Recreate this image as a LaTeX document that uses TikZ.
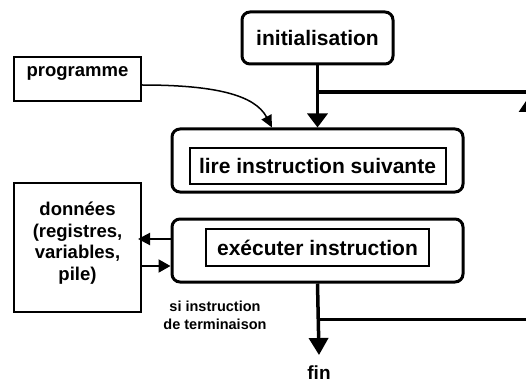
\documentclass[tikz,border=0pt]{standalone}
\usepackage{fontspec}
\setmainfont{Liberation Sans}
\usetikzlibrary{arrows.meta}
\begin{document}
\begin{tikzpicture}[x=1pt,y=-1pt,
  rbox/.style={draw, line width=3pt, rounded corners=8pt, inner sep=0pt},
  sbox/.style={draw, line width=2pt, inner sep=0pt},
  bigtxt/.style={font=\bfseries\fontsize{21}{25}\selectfont},
  midtxt/.style={font=\bfseries\fontsize{18.5}{21.7}\selectfont, inner sep=0pt, align=center},
  smalltxt/.style={font=\bfseries\fontsize{14.5}{18}\selectfont, inner sep=0pt, align=center},
  heavy/.style={line width=3.5pt},
  thin/.style={line width=2pt}
]
\useasboundingbox (0,0) rectangle (526,382);
\clip (0,0) rectangle (526,382);

% boxes
\node[rbox, bigtxt, minimum width=151pt, minimum height=52pt] (init) at (317.5,38) {initialisation};
\node[sbox, minimum width=127pt, minimum height=44pt] (prog) at (77.5,79) {};
\node[midtxt, anchor=base] (progtxt) at (77.5,77) {programme};
\node[rbox, minimum width=291pt, minimum height=63pt] (lire) at (317.5,160.5) {};
\node[sbox, bigtxt, minimum width=256pt, minimum height=36pt] (lirein) at (317.5,166) {lire instruction suivante};
\node[rbox, minimum width=291pt, minimum height=63pt] (exec) at (317.5,250.5) {};
\node[sbox, bigtxt, minimum width=223pt, minimum height=37pt] (execin) at (317.5,247.5) {exécuter instruction};
\node[sbox, minimum width=127pt, minimum height=129pt] (don) at (77.5,247.5) {};
\node[midtxt] (dontxt) at (77.5,243) {données\\(registres,\\variables,\\pile)};
\node[smalltxt] (term) at (215,315) {si instruction\\de terminaison};
\node[font=\bfseries\fontsize{19}{22}\selectfont, inner sep=0pt, anchor=base] (fin) at (319,379) {fin};

% connectors
\coordinate (j1) at (317.5,92);
\coordinate (r1) at (530,92);
\coordinate (j2) at (317.5,319);
\coordinate (r2) at (528,319);
\coordinate (r3) at (528,98);

\draw[heavy, -{Triangle[width=20pt,length=14pt]}] (init.south) -- (lire.north);
\draw[heavy] (j1) -- (r1);
\draw[line width=3pt] (j2) -- (r2);
\draw[line width=3pt, -{Triangle[width=18pt,length=14pt]}] (r2) -- (r3);
\draw[heavy, -{Triangle[width=19pt,length=17pt]}] (exec.south) -- ([yshift=10pt]fin.north);

\draw[line width=1.5pt, -{Triangle[width=11pt,length=12pt]}]
  ([yshift=-6pt]prog.east) .. controls (215,85) and (255,95) .. ([xshift=-45.5pt]lire.north);

\draw[thin, -{Triangle[width=12pt,length=12pt]}] (exec.west |- 0,239) -- ([xshift=-4pt]don.east |- 0,239);
\draw[thin, -{Triangle[width=13pt,length=12pt]}] (don.east |- 0,266) -- (exec.west |- 0,266);
\end{tikzpicture}
\end{document}
